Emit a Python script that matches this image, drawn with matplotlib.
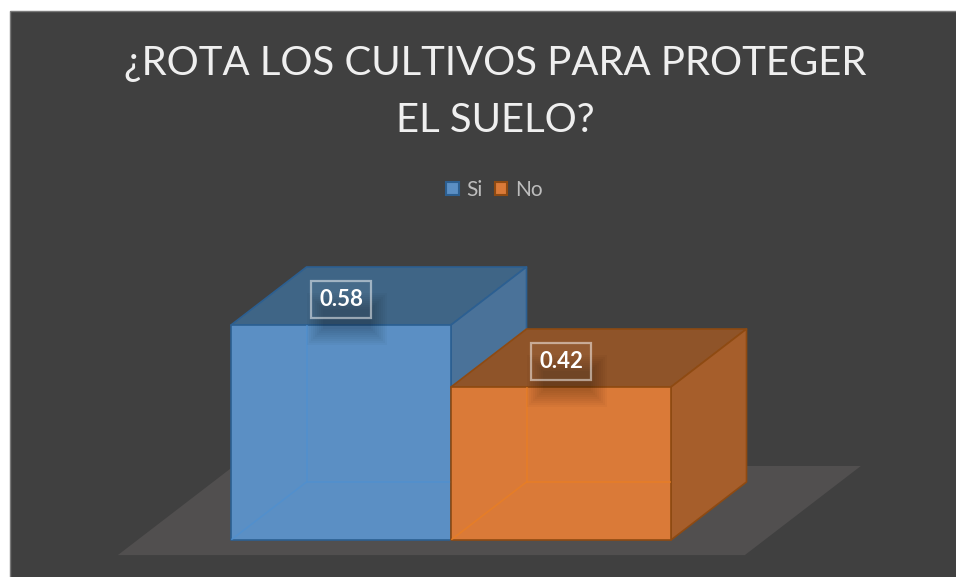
import matplotlib
matplotlib.use("Agg")
import matplotlib.pyplot as plt
from matplotlib.colors import to_rgba
from matplotlib.patches import Polygon, Patch, Rectangle

# ---- data ----
categories = ["Si", "No"]
values = [0.58, 0.42]
value_labels = ["0.58", "0.42"]
title_text = "¿ROTA LOS CULTIVOS PARA PROTEGER\nEL SUELO?"

# ---- style / scale ----
W, H = 956, 577
PX_X, PX_Y = 220.0, 387.5      # pixels per category / value unit
X0_PX, Y0_PX = 231.0, 540.0    # pixel of chart origin
BASE = 0.0252                  # value at which the floor lies
DX, DY = 75.5 / PX_X, 58.0 / PX_Y  # oblique depth vector in data units

COL = {
    "Si": dict(front="#5B8FC4", top="#3F6586", side="#4A7299", edge="#2C5F91", hid="#4F90D0"),
    "No": dict(front="#DA7A38", top="#8F5429", side="#A65E2B", edge="#8E4A12", hid="#EA7F22"),
}

plt.rcParams["font.family"] = ["Lato", "DejaVu Sans"]
fig = plt.figure(figsize=(W / 100, H / 100), dpi=100, facecolor="white")
ax = fig.add_axes([0, 0, 1, 1])
ax.set_xlim(-X0_PX / PX_X, (W - X0_PX) / PX_X)
ax.set_ylim(BASE - (H - Y0_PX) / PX_Y, BASE + Y0_PX / PX_Y)
ax.axis("off")

# chart panel
fig.patches.append(Rectangle((9.5 / W, -0.01), 1.01, 1 - 10.5 / H + 0.01,
                             transform=fig.transFigure, facecolor="#404040",
                             edgecolor="#7A7A7A", linewidth=1.0, zorder=-5))


def P(cat, val, depth=0.0):
    return (cat + depth * DX, val + depth * DY)


# floor
fd, bd = -0.26, 1.276
floor = [P(-0.425, BASE, fd), P(2.425, BASE, fd), P(2.425, BASE, bd), P(-0.425, BASE, bd)]
ax.add_patch(Polygon(floor, closed=True, facecolor="#514F4F", edgecolor="none", zorder=1))


def face(pts, color, edge, z, alpha=1.0, lw=1.2):
    p = Polygon(pts, closed=True, facecolor=to_rgba(color, alpha), edgecolor=edge,
                linewidth=lw, joinstyle="round", zorder=z)
    ax.add_patch(p)
    return p


for i, (name, v) in enumerate(zip(categories, values)):
    c = COL[name]
    l, r = float(i), float(i + 1)
    z = 2 + i * 10
    face([P(l, v), P(r, v), P(r, v, 1), P(l, v, 1)], c["top"], c["edge"], z + 1)
    face([P(r, BASE), P(r, v), P(r, v, 1), P(r, BASE, 1)], c["side"], c["edge"], z + 1)
    front = face([P(l, BASE), P(r, BASE), P(r, v), P(l, v)], c["front"], c["edge"], z + 2)
    # hidden rear edges show faintly through the translucent front
    rear = [P(l, BASE), P(l, BASE, 1), P(r, BASE, 1)]
    rear2 = [P(l, BASE, 1), P(l, v, 1)]
    for seg in (rear, rear2):
        ln, = ax.plot(*zip(*seg), color=c["hid"], lw=1.2, alpha=0.7, zorder=z + 3)
        ln.set_clip_path(front)

# data labels with soft shadow
xpx = 72 / 100.0
for i, (v, lab) in enumerate(zip(values, value_labels)):
    cx = i + 0.5
    for grow in range(10, -8, -2):
        sx = cx + (-24 - grow) / PX_X
        sy = v + (-10 - grow) / PX_Y
        ax.add_patch(Rectangle((sx, sy), (60 + 2 * grow) / PX_X, (32 + 2 * grow) / PX_Y,
                               facecolor="black", alpha=0.028, edgecolor="none", zorder=40))
    ax.annotate(lab, xy=(cx, v), xytext=(0, 26 * xpx), textcoords="offset points",
                ha="center", va="center", color="white", fontsize=16, fontweight="bold",
                zorder=50,
                bbox=dict(boxstyle="square,pad=0.36",
                          facecolor=(1, 1, 1, 0.04), edgecolor=(1, 1, 1, 0.5), linewidth=1.6))

# title
fig.text(495 / W, 1 - 92 / H, title_text, ha="center", va="center", color="#EFEFEF",
         fontsize=28.9, linespacing=1.65)

# legend
handles = [Patch(facecolor=COL[n]["front"], edgecolor=COL[n]["edge"], linewidth=1.5, label=n)
           for n in categories]
leg = ax.legend(handles=handles, loc="center", bbox_to_anchor=(494 / W, 1 - 190 / H),
                bbox_transform=fig.transFigure, ncol=2, frameon=False, fontsize=15,
                handlelength=0.62, handleheight=0.62, handletextpad=0.35, columnspacing=0.6,
                borderpad=0)
for t in leg.get_texts():
    t.set_color("#BDBDBD")

fig.savefig("out.png", dpi=100, facecolor="white")
